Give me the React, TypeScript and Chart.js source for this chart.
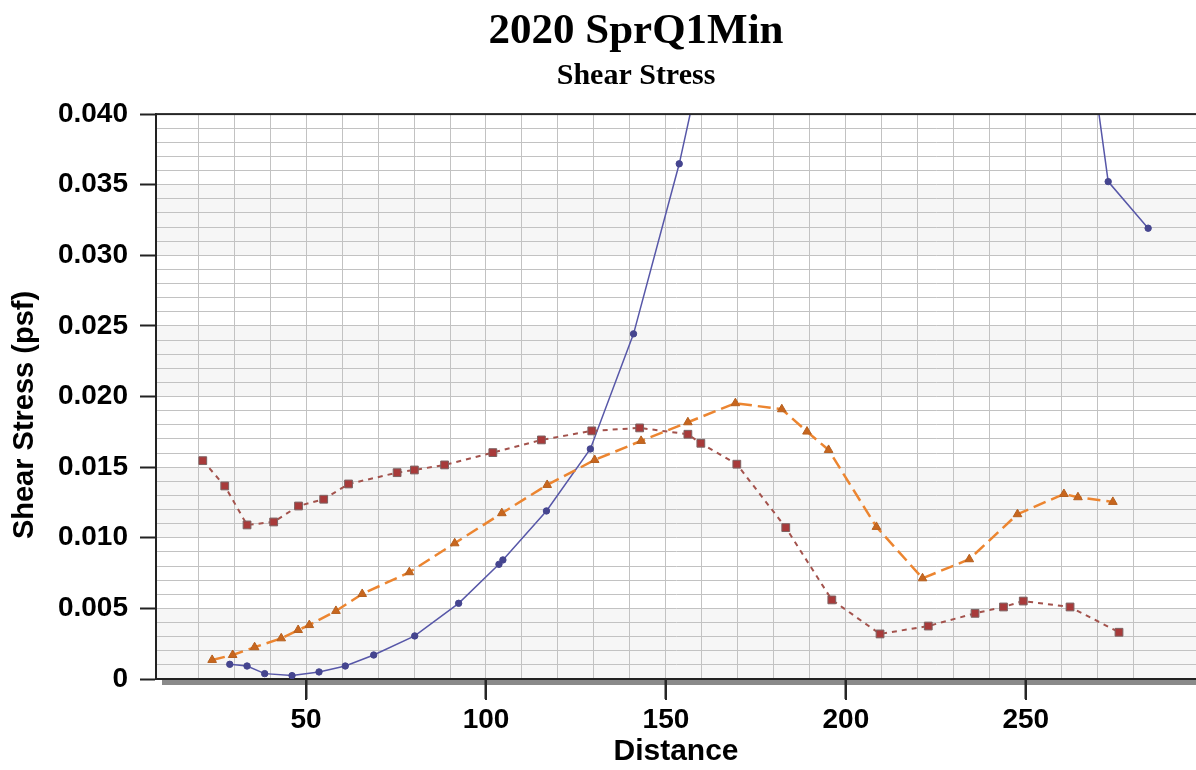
import { useEffect, useRef } from 'react';
import { Chart, registerables } from 'chart.js';

Chart.register(...registerables);

const titleText = '2020 SprQ1Min';
const subtitleText = 'Shear Stress';
const xAxisTitle = 'Distance';
const yAxisTitle = 'Shear Stress (psf)';

// Series 1 (blue, solid, circles)
const blueX = [28.8, 33.6, 38.5, 46.1, 53.6, 60.9, 68.8, 80.2, 92.4, 103.6, 104.7, 116.8, 129.0, 141.0, 153.7, 166.2, 262.3, 272.9, 284.0];
const blueY = [0.00104, 0.00092, 0.00038, 0.00024, 0.0005, 0.00092, 0.0017, 0.00305, 0.00536, 0.00812, 0.00843, 0.0119, 0.01629, 0.02444, 0.03648, 0.051, 0.055, 0.03522, 0.03192];

// Series 2 (orange, dashed, triangles)
const orangeX = [23.9, 29.6, 35.7, 43.1, 47.8, 50.9, 58.3, 65.6, 78.7, 91.3, 104.4, 117.0, 130.2, 143.1, 156.1, 169.3, 182.2, 189.2, 195.2, 208.5, 221.3, 234.3, 247.7, 260.6, 264.5, 274.2];
const orangeY = [0.00135, 0.0017, 0.00225, 0.00288, 0.00347, 0.00382, 0.00482, 0.00602, 0.00756, 0.00961, 0.01174, 0.01374, 0.01551, 0.01686, 0.01818, 0.01953, 0.0191, 0.01752, 0.01622, 0.01077, 0.00713, 0.00848, 0.01167, 0.0131, 0.01287, 0.01254];

// Series 3 (brown, dotted, squares)
const redX = [21.3, 27.4, 33.6, 41.0, 47.9, 54.9, 61.8, 75.3, 80.1, 88.5, 101.9, 115.4, 129.4, 142.7, 156.1, 159.7, 169.7, 183.3, 196.1, 209.5, 222.9, 235.9, 243.8, 249.3, 262.3, 275.9];
const redY = [0.01546, 0.01367, 0.01091, 0.01112, 0.01225, 0.01273, 0.01381, 0.01461, 0.0148, 0.01516, 0.01603, 0.01693, 0.01757, 0.01778, 0.01733, 0.01669, 0.01521, 0.01072, 0.0056, 0.00319, 0.00375, 0.00465, 0.0051, 0.00552, 0.0051, 0.00331];

const xTickValues = [50, 100, 150, 200, 250];
const xTickLabels = ['50', '100', '150', '200', '250'];
const yTickValues = [0, 0.005, 0.01, 0.015, 0.02, 0.025, 0.03, 0.035, 0.04];
const yTickLabels = ['0', '0.005', '0.010', '0.015', '0.020', '0.025', '0.030', '0.035', '0.040'];

const X_MIN = 8.3;
const X_MAX = 297.3;
const X_GRID_STEP = 10;
const Y_MIN = 0;
const Y_MAX = 0.04;
const Y_GRID_STEP = 0.001;

const pts = (xs: number[], ys: number[]) => xs.map((x, i) => ({ x, y: ys[i] }));

const findIdx = (vals: number[], v: number) => vals.findIndex((t) => Math.abs(t - v) < 1e-9);
const onStep = (v: number, step: number) => Math.abs(v / step - Math.round(v / step)) < 1e-6;

const SANS = "'Liberation Sans', Arial, sans-serif";
const SERIF = "'Liberation Serif', 'Times New Roman', serif";
const GRID = '#c2c2c2';

const decorPlugin = {
  id: 'decor',
  afterLayout(chart: any) {
    for (const b of chart.boxes) {
      if (b && b.options && (b.options.text === titleText || b.options.text === subtitleText)) {
        b.left = 76;
      }
    }
  },
  beforeDraw(chart: any) {
    const { ctx, chartArea: a, scales } = chart;
    const y = scales.y;
    ctx.save();
    ctx.fillStyle = '#ffffff';
    ctx.fillRect(0, 0, chart.width, chart.height);
    ctx.fillStyle = '#f6f6f6';
    for (let i = 0; i < yTickValues.length - 1; i += 2) {
      const top = y.getPixelForValue(yTickValues[i + 1]);
      const bot = y.getPixelForValue(yTickValues[i]);
      ctx.fillRect(a.left, top, a.right - a.left, bot - top);
    }
    ctx.fillStyle = '#8a8a8a';
    ctx.fillRect(a.left + 6, a.bottom + 1, a.right - a.left - 6, 5);
    ctx.restore();
  },
  afterDraw(chart: any) {
    const { ctx, chartArea: a } = chart;
    const xs = chart.scales.x;
    ctx.save();
    ctx.fillStyle = '#262626';
    ctx.fillRect(a.left, a.top - 1, a.right - a.left, 2);
    for (let k = 0; k < xTickValues.length; k++) {
      const px = Math.round(xs.getPixelForValue(xTickValues[k]));
      ctx.fillRect(px - 1, a.bottom, 2, 21);
    }
    ctx.translate(25, 415);
    ctx.rotate(-Math.PI / 2);
    ctx.fillStyle = '#000';
    ctx.font = `bold 29px ${SANS}`;
    ctx.textAlign = 'center';
    ctx.textBaseline = 'middle';
    ctx.fillText(yAxisTitle, 0, 0);
    ctx.restore();
  },
};

export default function App() {
  const ref = useRef<HTMLCanvasElement | null>(null);

  useEffect(() => {
    if (!ref.current) return;
    const chart = new Chart(ref.current, {
      type: 'line',
      data: {
        datasets: [
          {
            label: 'Series 3',
            data: pts(redX, redY),
            borderColor: '#a3524c',
            borderWidth: 2,
            borderDash: [5, 5],
            pointStyle: 'rect',
            pointRadius: 5.5,
            pointBackgroundColor: '#a83a3a',
            pointBorderColor: '#7d6262',
            pointBorderWidth: 1,
            tension: 0,
          },
          {
            label: 'Series 2',
            data: pts(orangeX, orangeY),
            borderColor: '#ec8530',
            borderWidth: 2.5,
            borderDash: [13, 6],
            pointStyle: 'triangle',
            pointRadius: 5,
            pointBackgroundColor: '#c8661e',
            pointBorderColor: '#b5601f',
            pointBorderWidth: 1,
            tension: 0,
          },
          {
            label: 'Series 1',
            data: pts(blueX, blueY),
            borderColor: '#5757a8',
            borderWidth: 1.5,
            pointStyle: 'circle',
            pointRadius: 3.2,
            pointBackgroundColor: '#45458f',
            pointBorderColor: '#45458f',
            pointBorderWidth: 1,
            tension: 0,
          },
        ],
      },
      options: {
        animation: false,
        responsive: false,
        devicePixelRatio: 1,
        layout: { autoPadding: false, padding: 0 },
        plugins: {
          legend: { display: false },
          tooltip: { enabled: false },
          title: {
            display: true,
            text: titleText,
            color: '#000',
            font: { family: SERIF, size: 43, weight: 'bold' },
            padding: { top: 6, bottom: 0 },
          },
          subtitle: {
            display: true,
            text: subtitleText,
            color: '#000',
            font: { family: SERIF, size: 30, weight: 'bold' },
            padding: { top: 1, bottom: 19.5 },
          },
        },
        scales: {
          x: {
            type: 'linear',
            min: X_MIN,
            max: X_MAX,
            bounds: 'ticks',
            afterFit: (s: any) => {
              s.height = 91;
              s.paddingLeft = 0;
              s.paddingRight = 0;
            },
            ticks: {
              stepSize: X_GRID_STEP,
              includeBounds: true,
              autoSkip: false,
              maxRotation: 0,
              padding: 4,
              color: '#000',
              font: { family: SANS, size: 28, weight: 'bold' },
              callback: (v: any) => {
                const i = findIdx(xTickValues, Number(v));
                return i >= 0 ? xTickLabels[i] : '';
              },
            },
            grid: {
              color: (c: any) => (c.tick && onStep(c.tick.value, X_GRID_STEP) ? GRID : 'rgba(0,0,0,0)'),
              lineWidth: 1,
              tickLength: 20,
              tickWidth: 2,
              tickColor: (c: any) => (c.tick && findIdx(xTickValues, c.tick.value) >= 0 ? '#222' : 'rgba(0,0,0,0)'),
            },
            border: { display: true, color: '#222', width: 2 },
            title: {
              display: true,
              text: xAxisTitle,
              color: '#000',
              font: { family: SANS, size: 30, weight: 'bold' },
              padding: { top: 0, bottom: 0 },
            },
          },
          y: {
            type: 'linear',
            min: Y_MIN,
            max: Y_MAX,
            afterFit: (s: any) => {
              s.width = 156;
              s.paddingTop = 0;
              s.paddingBottom = 0;
            },
            ticks: {
              stepSize: Y_GRID_STEP,
              autoSkip: false,
              padding: 12,
              color: '#000',
              font: { family: SANS, size: 28, weight: 'bold' },
              callback: (v: any) => {
                const i = findIdx(yTickValues, Number(v));
                return i >= 0 ? yTickLabels[i] : '';
              },
            },
            grid: {
              color: GRID,
              lineWidth: 1,
              tickLength: 16,
              tickWidth: 2,
              tickColor: (c: any) => (c.tick && findIdx(yTickValues, c.tick.value) >= 0 ? '#222' : 'rgba(0,0,0,0)'),
            },
            border: { display: true, color: '#222', width: 2 },
            title: { display: false },
          },
        },
      } as any,
      plugins: [decorPlugin],
    });
    return () => chart.destroy();
  }, []);

  return (
    <div style={{ position: 'fixed', left: 0, top: 0, width: 1196, height: 770, background: '#fff' }}>
      <canvas ref={ref} width={1196} height={770} style={{ display: 'block', width: 1196, height: 770 }} />
    </div>
  );
}
